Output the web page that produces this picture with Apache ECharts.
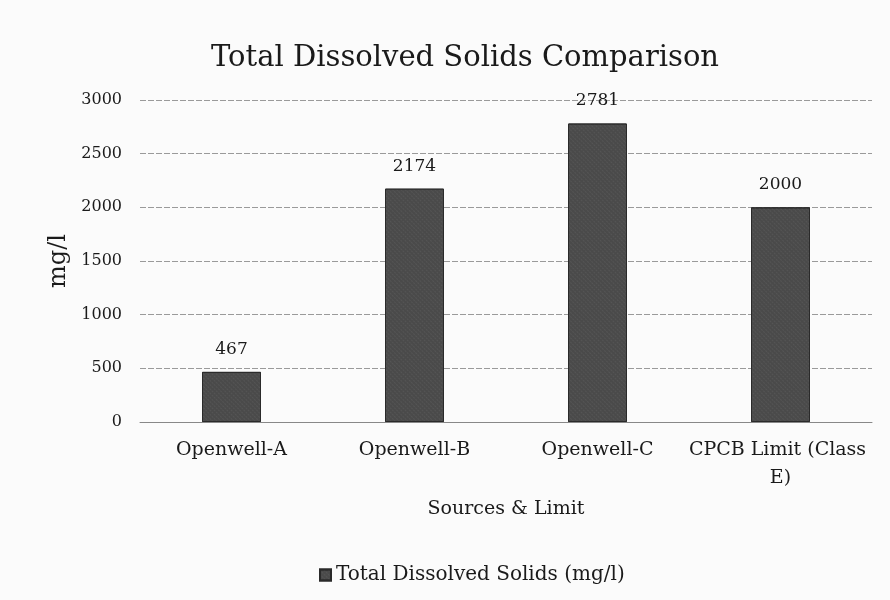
<!DOCTYPE html>
<html>
<head>
<meta charset="utf-8">
<script src="https://cdn.jsdelivr.net/npm/echarts@6/dist/echarts.min.js"></script>
<style>
  html, body { margin: 0; padding: 0; background: #fbfbfb; }
  #chart { width: 890px; height: 600px; }
</style>
</head>
<body>
<div id="chart"></div>
<script>
    // values
    const categories = ['Openwell-A', 'Openwell-B', 'Openwell-C', 'CPCB Limit (Class E)'];
    const tdsValues = [467, 2174, 2781, 2000];
    const seriesName = 'Total Dissolved Solids (mg/l)';

    const serif = '"DejaVu Serif", "Liberation Serif", serif';
    const chart = echarts.init(document.getElementById('chart'));

    const option = {
        backgroundColor: '#fbfbfb',
        title: {
            text: 'Total Dissolved Solids Comparison',
            left: 206,
            top: 39,
            textStyle: { fontFamily: serif, fontSize: 29, fontWeight: 'normal', color: '#1a1a1a' }
        },
        legend: {
            data: [seriesName],
            bottom: 10,
            left: 314,
            icon: 'rect',
            itemWidth: 11,
            itemHeight: 11,
            itemGap: 6,
            textStyle: { fontFamily: serif, fontSize: 20, color: '#1a1a1a' }
        },
        grid: { left: 140, right: 18, top: 100, bottom: 178 },
        xAxis: {
            type: 'category',
            data: categories,
            name: 'Sources & Limit',
            nameLocation: 'middle',
            nameGap: 78,
            nameTextStyle: { fontFamily: serif, fontSize: 19, color: '#1a1a1a' },
            axisLine: { lineStyle: { color: '#888', width: 1 } },
            axisTick: { show: false },
            axisLabel: {
                interval: 0,
                fontFamily: serif, fontSize: 19, color: '#1a1a1a', margin: 14,
                width: 185, overflow: 'break', lineHeight: 28
            }
        },
        yAxis: {
            type: 'value',
            min: 0,
            max: 3000,
            interval: 500,
            name: 'mg/l',
            nameLocation: 'middle',
            nameGap: 60,
            nameRotate: 90,
            nameTextStyle: { fontFamily: serif, fontSize: 24, color: '#1a1a1a' },
            axisLabel: {
                fontFamily: serif, fontSize: 16, color: '#1a1a1a', margin: 18,
                formatter: v => String(v)
            },
            splitLine: { lineStyle: { color: '#9a9a9a', width: 1, type: [6, 2] } }
        },
        series: [{
            name: seriesName,
            type: 'bar',
            data: tdsValues,
            barWidth: 59,
            itemStyle: {
                color: '#4a4a4a',
                borderColor: '#2a2a2a',
                borderWidth: 1,
                decal: {
                    symbol: 'rect',
                    symbolSize: 0.5,
                    dashArrayX: [2, 1],
                    dashArrayY: [1, 2],
                    rotation: Math.PI / 4,
                    color: 'rgba(200,200,200,0.35)'
                }
            },
            label: {
                show: true,
                position: 'top',
                distance: 14,
                fontFamily: serif,
                fontSize: 17,
                color: '#1a1a1a'
            }
        }]
    };

    chart.setOption(option);
</script>
</body>
</html>
